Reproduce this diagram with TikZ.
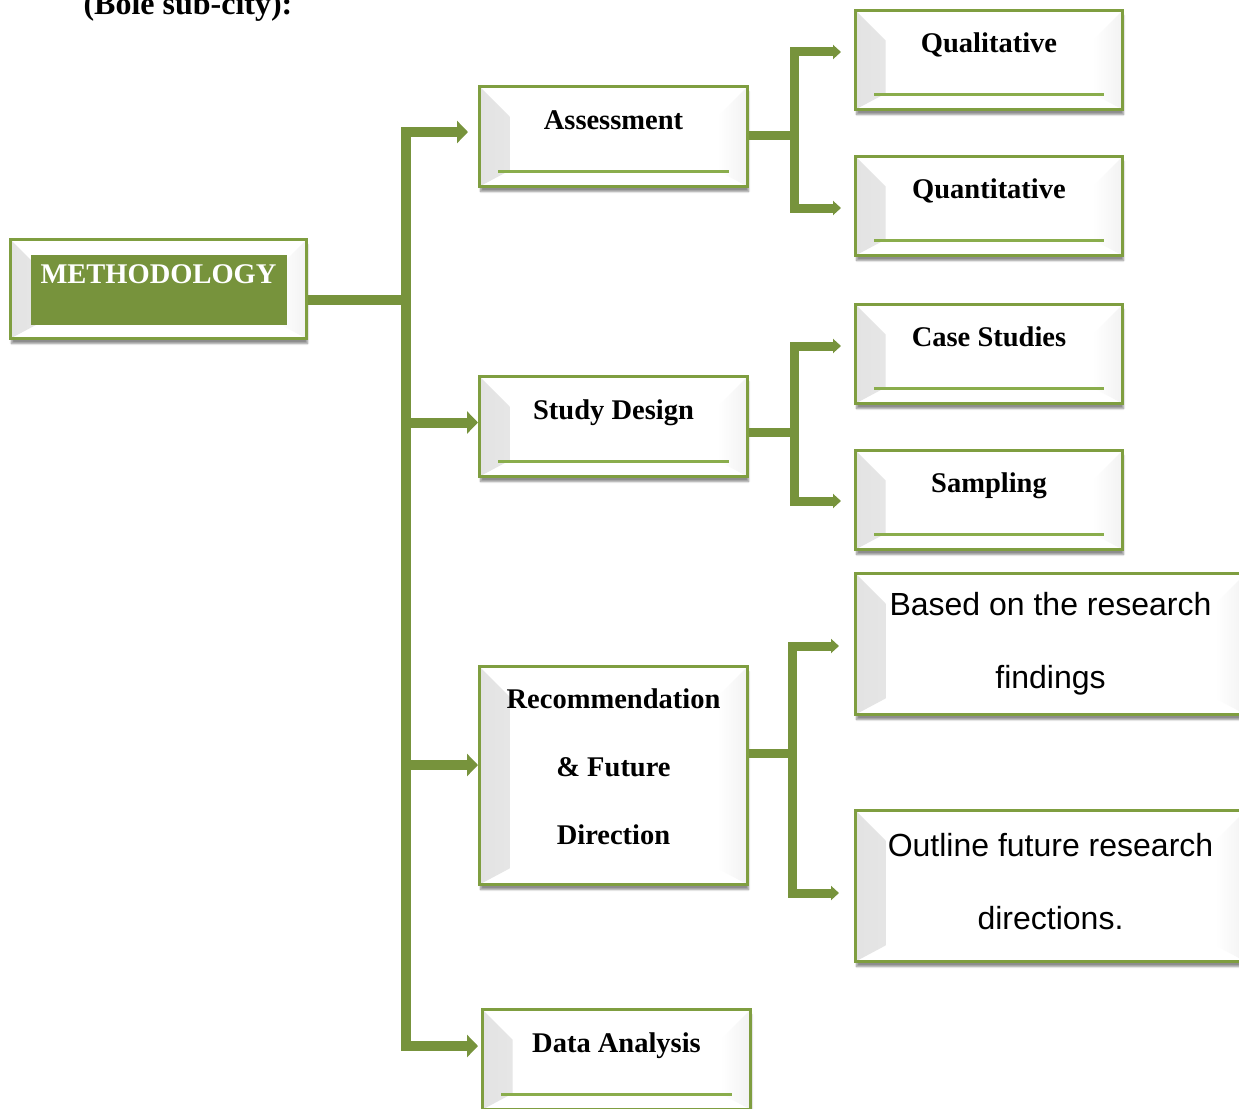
\documentclass[tikz,border=0pt]{standalone}
\usepackage{fontspec}
\setmainfont{Liberation Serif}
\newfontfamily\arialfont{Liberation Sans}
\usetikzlibrary{arrows.meta,positioning,shadows.blur}
\definecolor{olivex}{HTML}{77933C}
\definecolor{rimx}{HTML}{7F9E40}
\definecolor{linex}{HTML}{8AAD4C}
\newcommand{\bevelfill}{%
  \shade[left color=black!11,right color=white]
    (path picture bounding box.north west)
    -- ([xshift=30pt,yshift=-30pt]path picture bounding box.north west)
    -- ([xshift=30pt,yshift=16pt]path picture bounding box.south west)
    -- (path picture bounding box.south west) -- cycle;
  \shade[left color=white,right color=black!5]
    (path picture bounding box.north east)
    -- ([xshift=-30pt,yshift=-30pt]path picture bounding box.north east)
    -- ([xshift=-30pt,yshift=16pt]path picture bounding box.south east)
    -- (path picture bounding box.south east) -- cycle;}
\tikzset{
  bev/.style={draw=rimx,line width=3pt,fill=white,anchor=north west,inner sep=0pt,
    blur shadow={shadow xshift=1pt,shadow yshift=-5pt,shadow blur steps=6,shadow opacity=45},
    path picture={\bevelfill}},
  bold/.style={font=\bfseries\fontsize{28.5}{68}\selectfont},
  sans/.style={font=\arialfont\fontsize{32}{73}\selectfont},
  onebox/.style={bev,bold,minimum width=268pt,minimum height=100pt,text height=20pt,text depth=35pt},
  twobox/.style={bev,sans,minimum width=390pt,align=center},
  uline/.style={linex,line width=3pt},
  trunk/.style={olivex,line width=10pt},
  twig/.style={olivex,line width=9pt},
  tipa/.style={-{Triangle[length=11pt,width=22pt]}},
  tipb/.style={{Triangle[length=8pt,width=14pt]}-{Triangle[length=8pt,width=14pt]}}
}
\begin{document}
\begin{tikzpicture}[x=1pt,y=-1pt]
\useasboundingbox (0,0) rectangle (1239,1108);
\clip (0,0) rectangle (1239,1108);

\node[font=\bfseries\fontsize{32}{38}\selectfont,anchor=base west] (ttl) at (80,15) {(Bole sub-city):};

% root
\node[bev,bold,minimum width=296pt,minimum height=99pt,text=white,text height=20pt,text depth=31pt,
  path picture={\bevelfill
    \fill[olivex] ([xshift=20pt,yshift=-15pt]path picture bounding box.north west)
      rectangle ([xshift=-20pt,yshift=14pt]path picture bounding box.south east);}]
  (meth) at (9,238) {METHODOLOGY};

% first level
\node[onebox] (asmt) at (478,85) {Assessment};
\node[onebox] (stud) at (478,375) {Study Design};
\node[bev,bold,minimum width=268pt,minimum height=218pt,align=center] (rec) at (478,665)
  {Recommendation\\\& Future\\Direction\rule[-18pt]{0pt}{18pt}};
\node[onebox] (data) at (481,1008) {Data Analysis};

% second level
\node[onebox,minimum width=267pt,minimum height=99pt] (qual) at (854,9) {Qualitative};
\node[onebox,minimum width=267pt,minimum height=99pt] (quan) at (854,155) {Quantitative};
\node[onebox,minimum width=267pt,minimum height=99pt] (case) at (854,303) {Case Studies};
\node[onebox,minimum width=267pt,minimum height=99pt] (samp) at (854,449) {Sampling};
\node[twobox,minimum height=141pt] (basd) at (854,572) {Based on the research\\findings};
\node[twobox,minimum height=151pt] (outl) at (854,809) {Outline future research\\directions.\rule[-10pt]{0pt}{10pt}};

\foreach \b in {asmt,stud,data,qual,quan,case,samp}
  \draw[uline] ([xshift=20pt,yshift=17pt]\b.south west) -- ([xshift=-20pt,yshift=17pt]\b.south east);

% main trunk
\coordinate (b0) at (406,299.5);
\coordinate (b1) at (406,132);
\coordinate (b2) at (406,422.5);
\coordinate (b3) at (406,765);
\coordinate (b4) at (406,1046);
\draw[trunk] (b0 -| meth.east) -- (b0);
\draw[trunk,{Triangle[length=11pt,width=22pt]}-{Triangle[length=11pt,width=22pt]},shorten <=10pt,shorten >=3pt]
  (b1 -| asmt.west) -- (b1) -- (b4) -- (b4 -| data.west);
\draw[trunk,tipa] (b2) -- (b2 -| stud.west);
\draw[trunk,tipa] (b3) -- (b3 -| rec.west);

% branches
\coordinate (a0) at (794.5,135.5);
\coordinate (a1) at (794.5,52);
\coordinate (a2) at (794.5,208);
\draw[twig] (a0 -| asmt.east) -- (a0);
\draw[twig,tipb,shorten <=13pt,shorten >=13pt] (a1 -| qual.west) -- (a1) -- (a2) -- (a2 -| quan.west);

\coordinate (s0) at (794.5,432);
\coordinate (s1) at (794.5,346);
\coordinate (s2) at (794.5,501);
\draw[twig] (s0 -| stud.east) -- (s0);
\draw[twig,tipb,shorten <=13pt,shorten >=13pt] (s1 -| case.west) -- (s1) -- (s2) -- (s2 -| samp.west);

\coordinate (r0) at (792.5,753.5);
\coordinate (r1) at (792.5,646);
\coordinate (r2) at (792.5,893);
\draw[twig] (r0 -| rec.east) -- (r0);
\draw[twig,tipb,shorten <=15pt,shorten >=15pt] (r1 -| basd.west) -- (r1) -- (r2) -- (r2 -| outl.west);
\end{tikzpicture}
\end{document}
